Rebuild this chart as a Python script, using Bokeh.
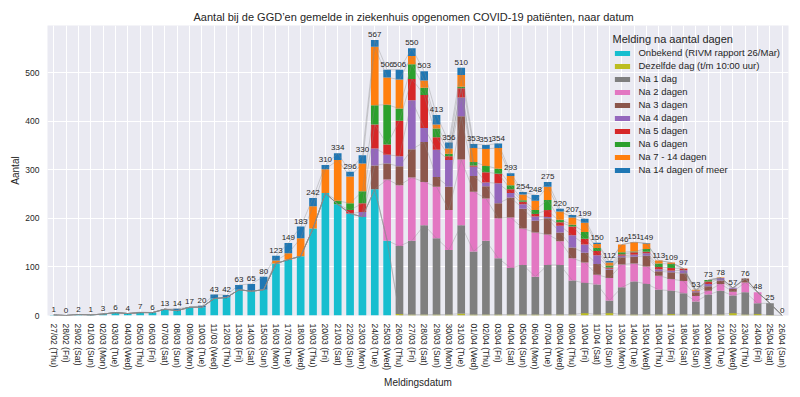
from bokeh.plotting import figure
from bokeh.models import FactorRange, Range1d, FixedTicker, Legend, LegendItem
from bokeh.embed import file_html
from bokeh.resources import INLINE
from bokeh.core.properties import value

dates = ["27/02 (Thu)", "28/02 (Fri)", "29/02 (Sat)", "01/03 (Sun)", "02/03 (Mon)", "03/03 (Tue)",
         "04/03 (Wed)", "05/03 (Thu)", "06/03 (Fri)", "07/03 (Sat)", "08/03 (Sun)", "09/03 (Mon)",
         "10/03 (Tue)", "11/03 (Wed)", "12/03 (Thu)", "13/03 (Fri)", "14/03 (Sat)", "15/03 (Sun)",
         "16/03 (Mon)", "17/03 (Tue)", "18/03 (Wed)", "19/03 (Thu)", "20/03 (Fri)", "21/03 (Sat)",
         "22/03 (Sun)", "23/03 (Mon)", "24/03 (Tue)", "25/03 (Wed)", "26/03 (Thu)", "27/03 (Fri)",
         "28/03 (Sat)", "29/03 (Sun)", "30/03 (Mon)", "31/03 (Tue)", "01/04 (Wed)", "02/04 (Thu)",
         "03/04 (Fri)", "04/04 (Sat)", "05/04 (Sun)", "06/04 (Mon)", "07/04 (Tue)", "08/04 (Wed)",
         "09/04 (Thu)", "10/04 (Fri)", "11/04 (Sat)", "12/04 (Sun)", "13/04 (Mon)", "14/04 (Tue)",
         "15/04 (Wed)", "16/04 (Thu)", "17/04 (Fri)", "18/04 (Sat)", "19/04 (Sun)", "20/04 (Mon)",
         "21/04 (Tue)", "22/04 (Wed)", "23/04 (Thu)", "24/04 (Fri)", "25/04 (Sat)", "26/04 (Sun)"]

onbekend = [1, 0, 2, 1, 3, 6, 4, 6, 6, 13, 10, 17, 17, 35, 37, 53, 50, 53, 107, 115,
            122, 179, 252, 229, 210, 203, 260, 154] + [0] * 32
dezelfde_dag = [0] * 28 + [3, 2, 2, 2, 2, 4, 2, 2, 2, 2, 2, 2, 2, 2, 2, 5, 2, 5, 2, 2,
                           2, 2, 3, 2, 2, 2, 2, 5, 2, 3, 1, 0]
na_1 = [0] * 28 + [140, 152, 184, 157, 133, 182, 130, 152, 116, 96, 102, 78, 102, 102, 70, 62,
                   62, 26, 56, 68, 63, 51, 48, 44, 27, 41, 49, 36, 46, 22, 24, 0]
na_2 = [0] * 27 + [126] + [125, 130, 89, 106, 82, 135, 123, 87, 82, 104, 75, 91, 63, 49, 46, 42,
                           20, 46, 47, 37, 36, 29, 24, 25, 11, 8, 14, 8, 20, 23, 0, 0]
na_3 = [0] * 26 + [49, 33] + [39, 58, 82, 20, 48, 89, 32, 25, 31, 41, 41, 24, 33, 18, 22, 20,
                              22, 17, 15, 14, 22, 9, 14, 16, 8, 9, 7, 6, 8, 0, 0, 0]
na_4 = [0] * 25 + [10, 35, 18] + [21, 101, 29, 56, 55, 39, 19, 8, 41, 9, 9, 9, 3, 14, 25, 17,
                                  18, 2, 3, 4, 5, 4, 3, 6, 2, 5, 5, 2, 0, 0, 0, 0]
na_5 = [0] * 24 + [7, 18, 49, 21] + [73, 44, 68, 26, 8, 19, 3, 21, 20, 8, 5, 5, 14, 7, 18, 12,
                                     9, 3, 3, 5, 3, 5, 6, 3, 1, 5, 0, 0, 0, 0, 0, 0]
na_6 = [0] * 23 + [7, 14, 25, 40, 82] + [25, 30, 15, 18, 5, 3, 7, 13, 10, 8, 3, 8, 21, 5, 4, 14,
                                         6, 4, 4, 2, 6, 7, 8, 0, 0, 3, 0, 0, 0, 0, 0, 0]
na_7_14 = [0] * 18 + [6, 13, 37, 46, 49, 84, 55, 57, 120, 56] + \
          [60, 17, 15, 8, 11, 24, 29, 35, 43, 19, 12, 19, 27, 17, 15, 19,
           8, 6, 16, 19, 11, 6, 3, 1, 2, 0, 1, 0, 0, 0, 0, 0]
na_14_plus = [0, 0, 0, 0, 0, 0, 0, 1, 0, 0, 4, 0, 3, 8, 5, 10, 15, 27, 10, 21,
              24, 17, 9, 14, 10, 17, 14, 16] + \
             [20, 16, 19, 20, 12, 15, 8, 8, 9, 6, 5, 12, 10, 6, 5, 8,
              3, 3, 0, 0, 1, 0, 0, 0, 0, 0, 0, 0, 0, 0, 0, 0]

series_names = ["Onbekend (RIVM rapport 26/Mar)", "Dezelfde dag (t/m 10:00 uur)", "Na 1 dag",
                "Na 2 dagen", "Na 3 dagen", "Na 4 dagen", "Na 5 dagen", "Na 6 dagen",
                "Na 7 - 14 dagen", "Na 14 dagen of meer"]
series_values = [onbekend, dezelfde_dag, na_1, na_2, na_3, na_4, na_5, na_6, na_7_14, na_14_plus]
colors = ["#17becf", "#bcbd22", "#7f7f7f", "#e377c2", "#8c564b", "#9467bd",
          "#d62728", "#2ca02c", "#ff7f0e", "#1f77b4"]
y_ticks = [0, 100, 200, 300, 400, 500]

FONT = "Liberation Sans"
TXT = "#262626"

keys = ["s%d" % i for i in range(len(series_names))]
data = {"x": dates}
for k, v in zip(keys, series_values):
    data[k] = v

p = figure(x_range=FactorRange(factors=dates, range_padding=0), y_range=Range1d(0, 597),
           width=792, height=392, output_backend="svg", toolbar_location=None,
           min_border_left=47, min_border_right=4, min_border_top=25, min_border_bottom=77)

p.background_fill_color = "#EAEAF2"
p.border_fill_color = "white"
p.outline_line_color = None

rs = p.vbar_stack(keys, x="x", width=0.62, source=data, color=colors, line_color=None)

cum = [0] * len(dates)
for v in series_values:
    cum = [a + b for a, b in zip(cum, v)]
    p.line(x=dates, y=list(cum), line_color="#8a8a8a", line_alpha=0.45, line_width=0.8)

totals = cum
p.text(x=dates, y=totals, text=[str(t) for t in totals], text_align="center",
       text_baseline="bottom", y_offset=-3, text_font=value(FONT), text_font_size="8px",
       text_color=TXT)

p.title.text = "Aantal bij de GGD\u2019en gemelde in ziekenhuis opgenomen COVID-19 pati\u00ebnten, naar datum"
p.title.text_font = FONT
p.title.text_font_size = "11px"
p.title.text_font_style = "normal"
p.title.text_color = TXT
p.title.align = "left"
p.title.offset = 146
p.title.standoff = 5

p.xgrid.grid_line_color = "white"
p.ygrid.grid_line_color = "white"
p.xgrid.grid_line_width = 1
p.ygrid.grid_line_width = 1

p.yaxis.ticker = FixedTicker(ticks=y_ticks)
for ax in (p.xaxis[0], p.yaxis[0]):
    ax.axis_line_color = None
    ax.major_tick_line_color = None
    ax.minor_tick_line_color = None
    ax.major_label_text_font = FONT
    ax.major_label_text_font_size = "8.5px"
    ax.major_label_text_color = TXT
    ax.axis_label_text_font = FONT
    ax.axis_label_text_font_size = "10px"
    ax.axis_label_text_font_style = "normal"
    ax.axis_label_text_color = TXT

p.xaxis.axis_label = "Meldingsdatum"
p.yaxis.axis_label = "Aantal"
p.xaxis.major_label_orientation = "vertical"
p.xaxis.major_label_standoff = 8
p.xaxis.axis_label_standoff = 4
p.yaxis.major_label_standoff = 8
p.yaxis.axis_label_standoff = 1
p.xaxis.major_tick_out = 0
p.yaxis.major_tick_out = 0

items = [LegendItem(label=n, renderers=[r]) for n, r in zip(series_names, rs)]
legend = Legend(items=items, location="top_right", title="Melding na aantal dagen")
legend.title_text_font = FONT
legend.title_text_font_size = "11px"
legend.title_text_font_style = "normal"
legend.title_text_color = TXT
legend.label_text_font = FONT
legend.label_text_font_size = "9.5px"
legend.label_text_color = TXT
legend.glyph_width = 19
legend.glyph_height = 6
legend.label_height = 13
legend.spacing = 0
legend.padding = 4
legend.margin = 8
legend.label_standoff = 7
legend.title_standoff = 1
legend.background_fill_alpha = 0
legend.border_line_color = None
p.add_layout(legend)

open("out.html", "w").write(file_html(p, INLINE))
